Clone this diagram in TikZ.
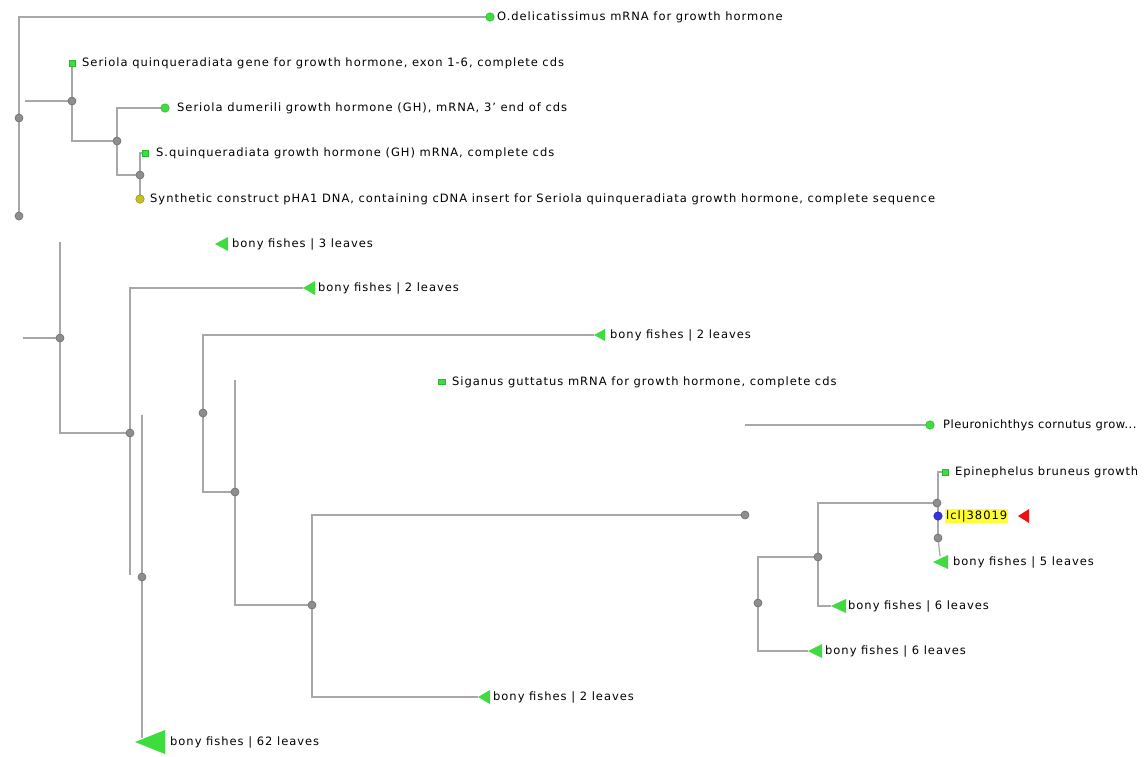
\documentclass[tikz,border=0pt]{standalone}
\usepackage{fontspec}
\setmainfont{DejaVu Sans}[LetterSpace=8.5]
\usetikzlibrary{backgrounds}
\definecolor{brc}{HTML}{A8A8A8}
\definecolor{ndc}{HTML}{8E8E8E}
\definecolor{ndd}{HTML}{6C6C6C}
\definecolor{lfg}{HTML}{3EDC3E}
\definecolor{lfd}{HTML}{2BB82B}
\definecolor{ylw}{HTML}{C8C020}
\definecolor{blu}{HTML}{3434E0}
\definecolor{hly}{HTML}{FFFF30}
\definecolor{redt}{HTML}{EE1111}
\tikzset{
  br/.style={draw=brc,line width=1.2pt},
  inode/.style={circle,fill=ndc,draw=ndd,line width=0.6pt,minimum size=8pt,inner sep=0pt},
  gleaf/.style={circle,fill=lfg,draw=lfd,line width=0.5pt,minimum size=8.5pt,inner sep=0pt},
  gsq/.style={rectangle,fill=lfg,draw=lfd,line width=0.5pt,minimum size=6.5pt,inner sep=0pt},
  yleaf/.style={circle,fill=ylw,draw=ylw!70!black,line width=0.5pt,minimum size=8.5pt,inner sep=0pt},
  bleaf/.style={circle,fill=blu,draw=blu!70!black,line width=0.5pt,minimum size=8.5pt,inner sep=0pt},
  tri/.style={fill=lfg},
  lbl/.style={anchor=west,inner sep=0pt,text=black,font=\fontsize{11.5}{13}\selectfont},
}
\begin{document}
\begin{tikzpicture}[x=1pt,y=-1pt]
\useasboundingbox (0,0) rectangle (1146,756);
% internal nodes
\node[inode] (n1) at (19,118) {};
\node[inode] (n2) at (19,216) {};
\node[inode] (n3) at (72,101) {};
\node[inode] (n4) at (117,141) {};
\node[inode] (n5) at (140,175) {};
\node[inode] (n6) at (60,338) {};
\node[inode] (n7) at (130,433) {};
\node[inode] (n8) at (203,413) {};
\node[inode] (n9) at (235,492) {};
\node[inode] (n10) at (142,577) {};
\node[inode] (n11) at (312,605) {};
\node[inode] (n12) at (745,515) {};
\node[inode] (n13) at (937,503) {};
\node[inode] (n14) at (818,557) {};
\node[inode] (n15) at (758,603) {};
\node[inode] (n16) at (938,538) {};
% leaves
\node[gleaf] (L1) at (490,17) {};
\node[gsq] (L2) at (72,63) {};
\node[gleaf] (L3) at (165,108) {};
\node[gsq] (L4) at (145,153) {};
\node[yleaf] (L5) at (140,199) {};
\node[gsq,minimum height=5pt,minimum width=7pt] (L6) at (442,382) {};
\node[gleaf] (L7) at (930,425) {};
\node[gsq] (L8) at (945,472) {};
\node[bleaf] (L9) at (938,516) {};
% triangle tips
\coordinate (T1) at (215,244);
\coordinate (T2) at (303,288);
\coordinate (T3) at (594,335);
\coordinate (T4) at (933,562);
\coordinate (T4c) at (940,556);
\coordinate (T5) at (831,606);
\coordinate (T6) at (808,651);
\coordinate (T7) at (478,697);
\coordinate (T8) at (135,742);
\coordinate (T8c) at (142,738);
% free ends
\coordinate (c1) at (25,101);
\coordinate (c2) at (60,242);
\coordinate (c3) at (23,338);
\coordinate (c4) at (130,575);
\coordinate (c5) at (142,415);
\coordinate (c7) at (203,492);
\coordinate (c8) at (235,380);
\coordinate (c9) at (312,697);
\coordinate (c10) at (745,425);
\coordinate (c11) at (818,606);
\coordinate (c12) at (758,651);
\begin{scope}[on background layer]
\fill[white] (0,0) rectangle (1146,756);
\draw[br] (L1) -| (n2);
\draw[br] (c1) -- (n3);
\draw[br] (L2) |- (n4);
\draw[br] (L3) -| (n4);
\draw[br] (n4) |- (n5);
\draw[br] (L4) -| (L5);
\draw[br] (c2) |- (n7);
\draw[br] (c3) -- (n6);
\draw[br] (T2) -| (c4);
\draw[br] (c5) -- (T8c);
\draw[br] (T3) -| (c7) -- (n9);
\draw[br] (c8) |- (n11);
\draw[br] (n12) -| (c9) -- (T7);
\draw[br] (c10) -- (L7);
\draw[br] (n13) -| (c11) -- (T5);
\draw[br] (n14) -| (c12) -- (T6);
\draw[br] (L8) -| (n16);
\draw[br] (n16) -- (T4c);
\end{scope}
% triangles
\fill[tri] (T1) -- ++(13,-7) -- ++(0,14) -- cycle;
\fill[tri] (T2) -- ++(12,-7) -- ++(0,14) -- cycle;
\fill[tri] (T3) -- ++(11,-6) -- ++(0,12) -- cycle;
\fill[tri] (T4) -- ++(15,-7) -- ++(0,14) -- cycle;
\fill[tri] (T5) -- ++(15,-7) -- ++(0,14) -- cycle;
\fill[tri] (T6) -- ++(14,-7) -- ++(0,14) -- cycle;
\fill[tri] (T7) -- ++(12,-7) -- ++(0,14) -- cycle;
\fill[tri] (T8) -- ++(30,-12) -- ++(0,24) -- cycle;
% labels
\node[lbl] (t1) at (497,17) {O.delicatissimus mRNA for growth hormone};
\node[lbl] (t2) at (82,63) {Seriola quinqueradiata gene for growth hormone, exon 1-6, complete cds};
\node[lbl] (t3) at (177,108) {Seriola dumerili growth hormone (GH), mRNA, 3' end of cds};
\node[lbl] (t4) at (156,153) {S.quinqueradiata growth hormone (GH) mRNA, complete cds};
\node[lbl] (t5) at (150,199) {Synthetic construct pHA1 DNA, containing cDNA insert for Seriola quinqueradiata growth hormone, complete sequence};
\node[lbl] (t6) at (232,244) {bony fishes | 3 leaves};
\node[lbl] (t7) at (318,288) {bony fishes | 2 leaves};
\node[lbl] (t8) at (610,335) {bony fishes | 2 leaves};
\node[lbl] (t9) at (452,382) {Siganus guttatus mRNA for growth hormone, complete cds};
\node[lbl,font=\fontsize{11.5}{13}\selectfont\addfontfeature{LetterSpace=4}] (t10) at (943,425) {Pleuronichthys cornutus grow...};
\node[lbl,font=\fontsize{11.5}{13}\selectfont\addfontfeature{LetterSpace=7}] (t11) at (955,472) {Epinephelus bruneus growth};
\node[lbl,fill=hly,inner sep=1pt] (t12) at (945,516) {lcl|38019};
\fill[redt] (1018,516) -- ++(11,-7) -- ++(0,14) -- cycle;
\node[lbl] (t13) at (953,562) {bony fishes | 5 leaves};
\node[lbl] (t14) at (848,606) {bony fishes | 6 leaves};
\node[lbl] (t15) at (825,651) {bony fishes | 6 leaves};
\node[lbl] (t16) at (493,697) {bony fishes | 2 leaves};
\node[lbl] (t17) at (170,742) {bony fishes | 62 leaves};
\end{tikzpicture}
\end{document}
